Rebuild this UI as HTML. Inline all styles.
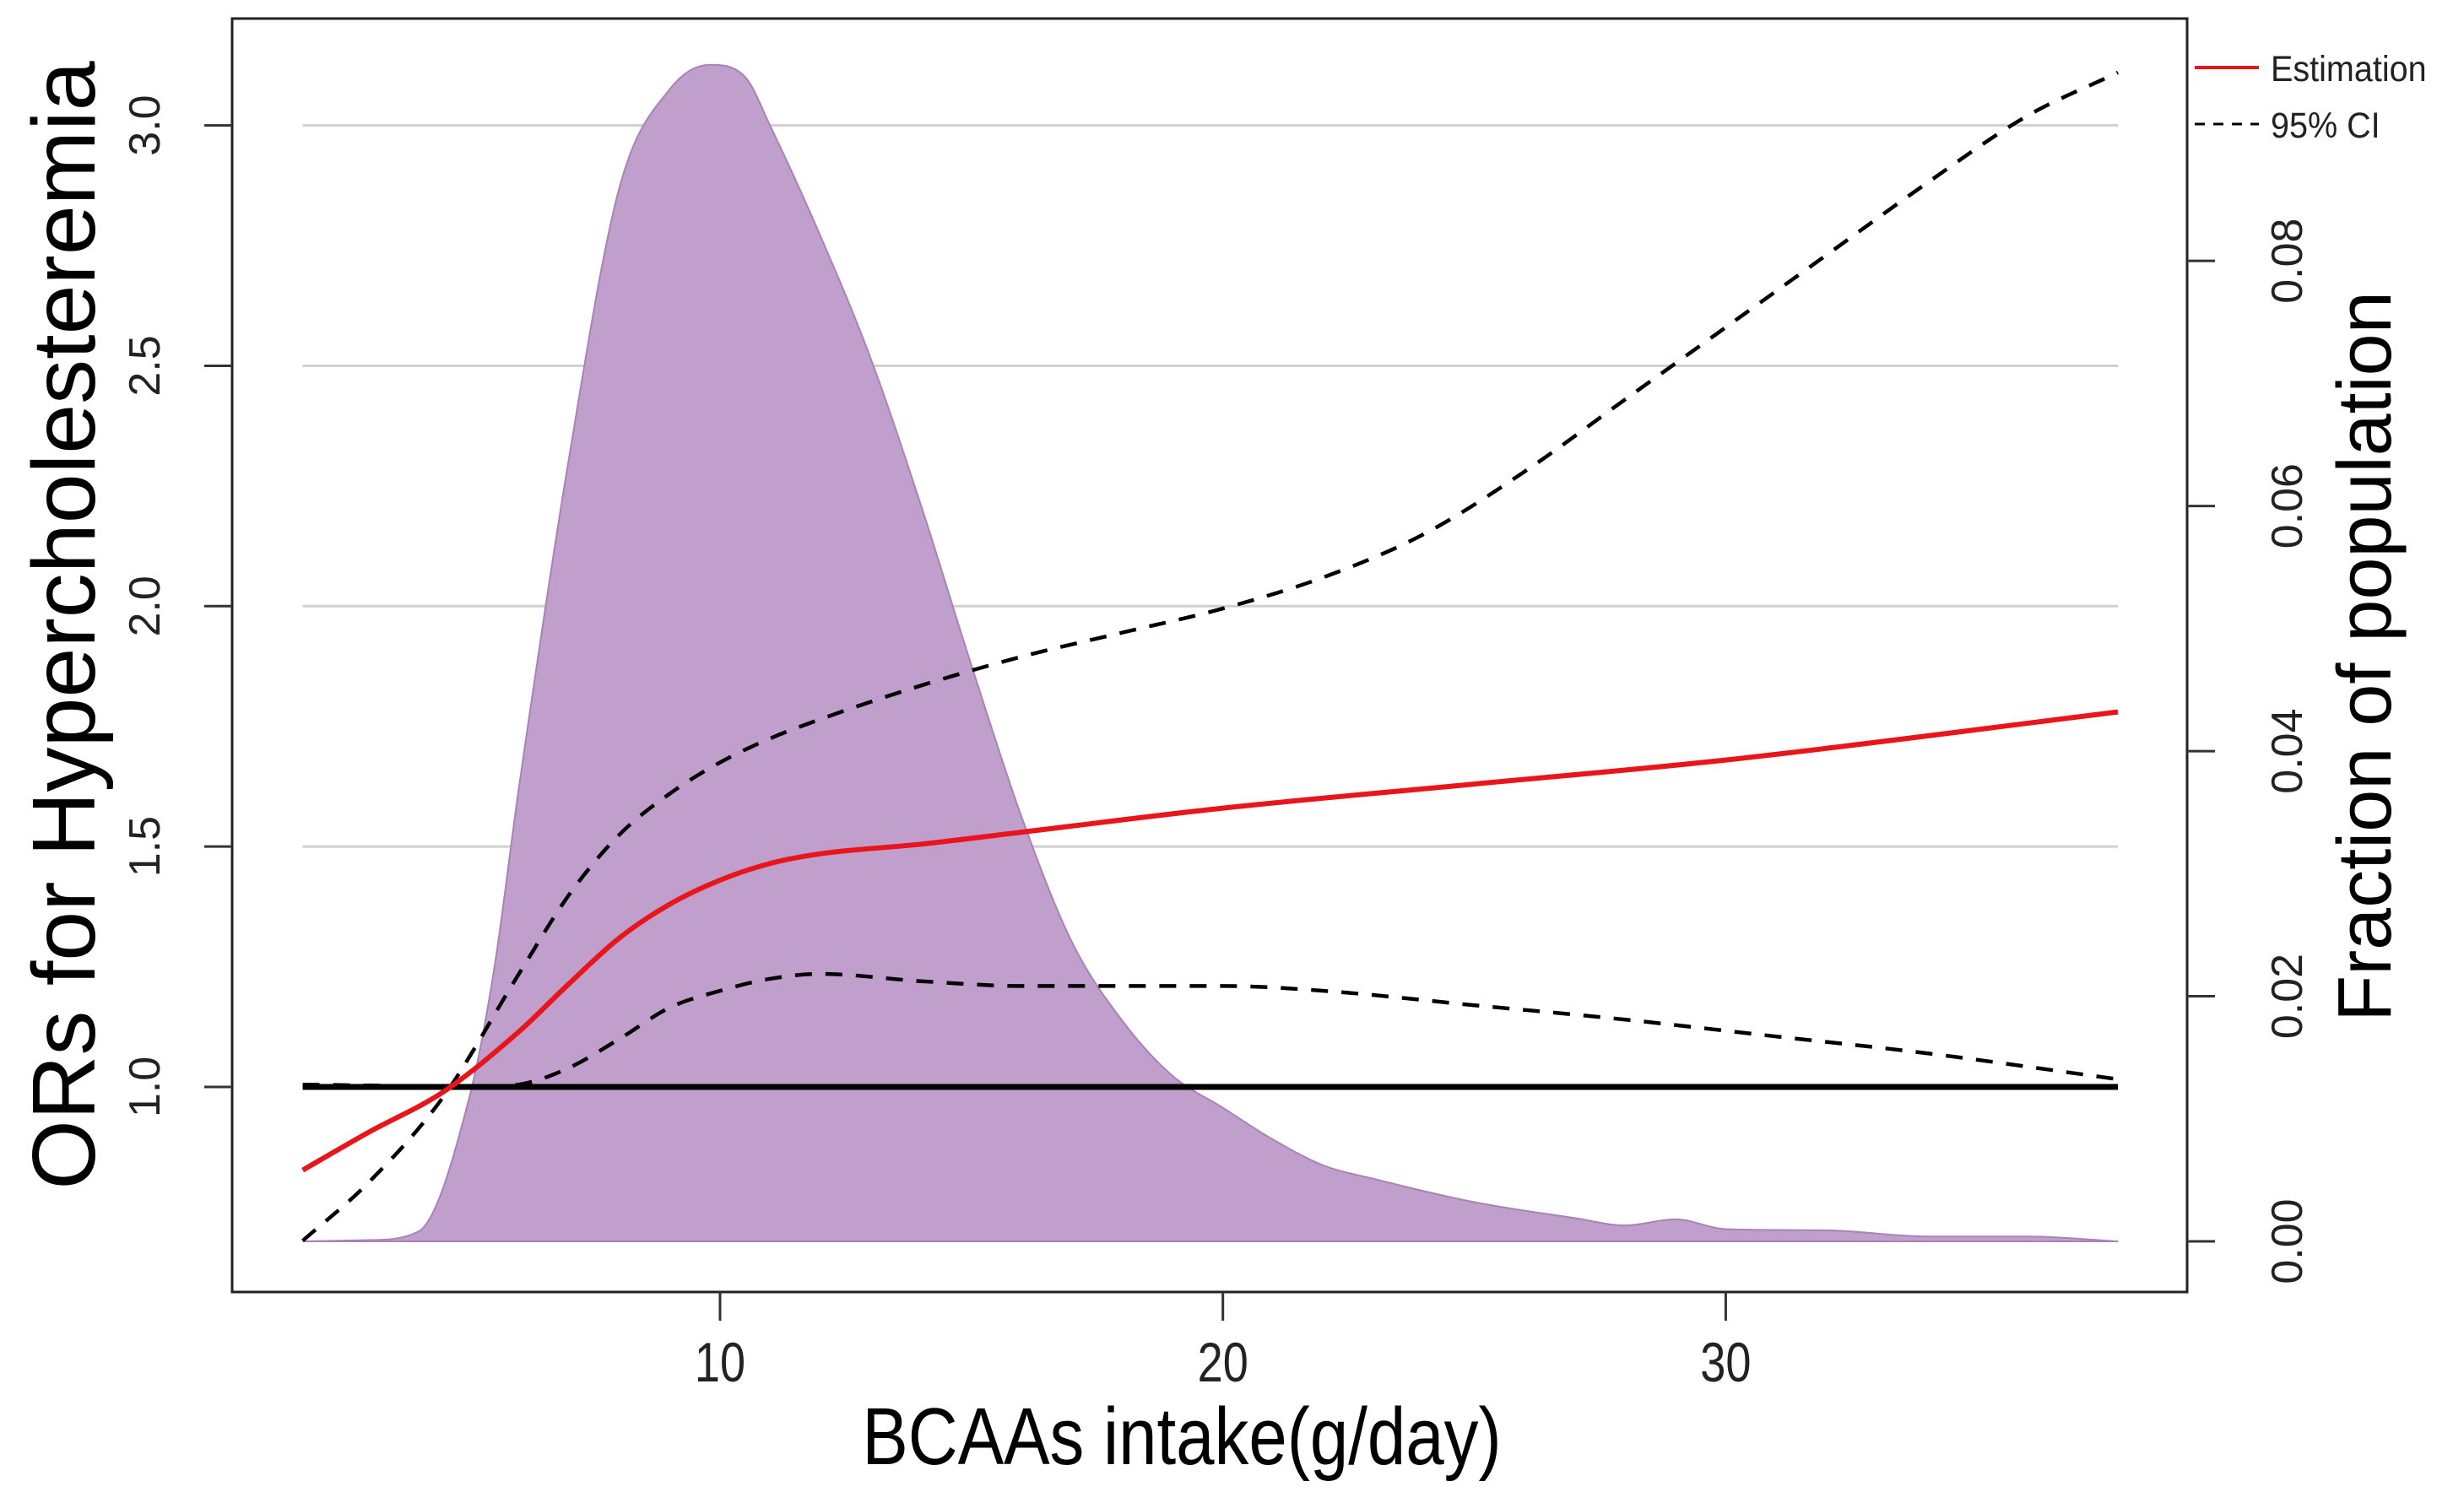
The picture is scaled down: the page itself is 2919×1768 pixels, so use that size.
<!DOCTYPE html>
<html><head><meta charset="utf-8">
<style>
html,body{margin:0;padding:0;background:#fff;}
svg{display:block;font-family:"Liberation Sans",Arial,sans-serif;}
</style></head>
<body>
<svg id="chart" width="2919" height="1768" viewBox="0 0 2919 1768" xmlns="http://www.w3.org/2000/svg">
<rect x="0" y="0" width="2919" height="1768" fill="#fff"/>
<g id="grid"></g>
<g id="density"></g>
<g id="lines"></g>
<rect x="275" y="22" width="2316" height="1509" fill="none" stroke="#222" stroke-width="3"/>
<g id="axes"></g>
<text transform="translate(112,741) rotate(-90)" text-anchor="middle" font-size="106" fill="#000">ORs for Hypercholesteremia</text>
<text transform="translate(2832,778) rotate(-90)" text-anchor="middle" font-size="90" fill="#000">Fraction of population</text>
<text transform="translate(1400,1735) scale(0.85,1)" text-anchor="middle" font-size="96" fill="#000">BCAAs intake(g/day)</text>
<g>
<line x1="2600" y1="80" x2="2676" y2="80" stroke="#e8151b" stroke-width="4"/>
<text x="2690" y="96" font-size="43" fill="#222" transform="translate(2690,0) scale(0.92,1) translate(-2690,0)">Estimation</text>
<line x1="2600" y1="147" x2="2676" y2="147" stroke="#000" stroke-width="3" stroke-dasharray="12,10"/>
<text x="2690" y="163" font-size="43" fill="#222" transform="translate(2690,0) scale(0.92,1) translate(-2690,0)">95% CI</text>
</g>
</svg>
<script>
const estX = [1.7,3,4.5,6,7,8,9,10,11,12,14,16,20,25,30,37.8];
const estY = [0.827,0.905,0.99,1.115,1.215,1.31,1.38,1.43,1.465,1.485,1.505,1.53,1.58,1.63,1.68,1.78];
const upX = [1.7,3,4.5,6,7,8,9,10,11,12,14,16,18,20,22,24,26,28,30,32,34,36,37.8];
const upY = [0.68,0.8,0.98,1.235,1.4,1.525,1.61,1.675,1.725,1.765,1.835,1.895,1.945,1.995,2.06,2.15,2.28,2.43,2.58,2.73,2.88,3.02,3.11];
const loX = [1.7,3,5,6,7,8,9,10,11,12,14,16,18,20,22,25,28,31,34,37.8];
const loY = [1.005,1.003,1.0,1.005,1.04,1.10,1.165,1.2,1.225,1.235,1.22,1.21,1.21,1.21,1.20,1.17,1.14,1.105,1.07,1.016];
const denX = [1.7,3,4,5,5.5,6,7,8,9,9.8,10.5,11,12,13,14,15,16,17,18,19,20,21,22,23,25,27,28,29,30,32,34,36,37.8];
const denY = [0,0.0001,0.0008,0.0115,0.022,0.037,0.064,0.086,0.094,0.096,0.095,0.091,0.082,0.072,0.060,0.047,0.0346,0.0244,0.018,0.0135,0.0109,0.0083,0.0062,0.0051,0.0032,0.0019,0.0013,0.0018,0.001,0.0009,0.0004,0.0004,0];
const xTicks = [10,20,30];
const yTicks = [1.0,1.5,2.0,2.5,3.0];
const yTickLabels = ["1.0","1.5","2.0","2.5","3.0"];
const rTicks = [0,0.02,0.04,0.06,0.08];
const rTickLabels = ["0.00","0.02","0.04","0.06","0.08"];
const refLine = 1.0;

const NS="http://www.w3.org/2000/svg";
function X(v){return 853+(v-10)*59.57;}
function YL(v){return 1288-(v-1)*569.7;}
function YR(v){return 1471-v*14523;}
function mk(tag,attrs,parent){const e=document.createElementNS(NS,tag);for(const k in attrs)e.setAttribute(k,attrs[k]);parent.appendChild(e);return e;}
// monotone cubic (Fritsch-Carlson) path through pixel points
function smooth(p){
  const n=p.length,d=[],m=[];
  for(let i=0;i<n-1;i++)d.push((p[i+1][1]-p[i][1])/(p[i+1][0]-p[i][0]));
  m[0]=d[0];m[n-1]=d[n-2];
  for(let i=1;i<n-1;i++){m[i]=(d[i-1]*d[i]<=0)?0:(d[i-1]+d[i])/2;}
  for(let i=0;i<n-1;i++){
    if(d[i]===0){m[i]=0;m[i+1]=0;continue;}
    const a=m[i]/d[i],b=m[i+1]/d[i],s=a*a+b*b;
    if(s>9){const t=3/Math.sqrt(s);m[i]=t*a*d[i];m[i+1]=t*b*d[i];}
  }
  let s="M"+p[0][0].toFixed(1)+","+p[0][1].toFixed(1);
  for(let i=0;i<n-1;i++){
    const h=(p[i+1][0]-p[i][0])/3;
    s+=" C"+(p[i][0]+h).toFixed(1)+","+(p[i][1]+m[i]*h).toFixed(1)+" "+(p[i+1][0]-h).toFixed(1)+","+(p[i+1][1]-m[i+1]*h).toFixed(1)+" "+p[i+1][0].toFixed(1)+","+p[i+1][1].toFixed(1);
  }
  return s;
}
const grid=document.getElementById('grid'),dens=document.getElementById('density'),lines=document.getElementById('lines'),axes=document.getElementById('axes');
const xmin=X(estX[0]),xmax=X(estX[estX.length-1]);
yTicks.forEach(function(t){
  if(t===refLine)return;
  const g=mk('line',{x1:xmin,x2:xmax,y1:YL(t),y2:YL(t),stroke:'#d0d0d0','stroke-width':3},grid);
  
  
});
const dp=denX.map(function(v,i){return [X(v),YR(denY[i])];});
const area=mk('path',{d:smooth(dp)+" L"+X(denX[denX.length-1])+","+YR(0)+" L"+X(denX[0])+","+YR(0)+" Z",fill:'#c09fcc',stroke:'#a882b8','stroke-width':2},dens);


const rl=mk('line',{x1:xmin,x2:xmax,y1:YL(refLine),y2:YL(refLine),stroke:'#000','stroke-width':7},lines);


const up=mk('path',{d:smooth(upX.map(function(v,i){return [X(v),YL(upY[i])];})),fill:'none',stroke:'#000','stroke-width':4.5,'stroke-dasharray':'20,16'},lines);


const lo=mk('path',{d:smooth(loX.map(function(v,i){return [X(v),YL(loY[i])];})),fill:'none',stroke:'#000','stroke-width':4.5,'stroke-dasharray':'20,16'},lines);


const est=mk('path',{d:smooth(estX.map(function(v,i){return [X(v),YL(estY[i])];})),fill:'none',stroke:'#e8151b','stroke-width':6},lines);


xTicks.forEach(function(t){
  const l=mk('line',{x1:X(t),x2:X(t),y1:1531,y2:1565,stroke:'#333','stroke-width':3},axes);
  
  
  const tx=mk('text',{transform:'translate('+X(t)+',1637) scale(0.82,1)','text-anchor':'middle','font-size':66,fill:'#222'},axes);
  tx.textContent=String(t);
  
  
});
yTicks.forEach(function(t,i){
  const l=mk('line',{x1:242,x2:275,y1:YL(t),y2:YL(t),stroke:'#333','stroke-width':3},axes);
  
  
  const tx=mk('text',{transform:'translate(189,'+YL(t)+') rotate(-90)','text-anchor':'middle','font-size':52,fill:'#222'},axes);
  tx.textContent=yTickLabels[i];
  
  
});
rTicks.forEach(function(t,i){
  const l=mk('line',{x1:2591,x2:2624,y1:YR(t),y2:YR(t),stroke:'#333','stroke-width':3},axes);
  
  
  const tx=mk('text',{transform:'translate(2727,'+YR(t)+') rotate(-90)','text-anchor':'middle','font-size':52,fill:'#222'},axes);
  tx.textContent=rTickLabels[i];
  
  
});
</script>
</body></html>
